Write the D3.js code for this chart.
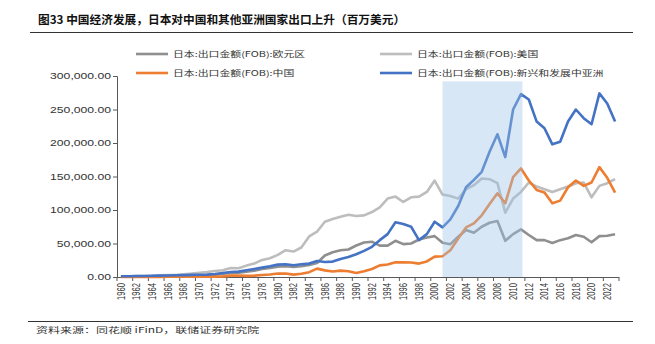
<!DOCTYPE html>
<html>
<head>
<meta charset="utf-8">
<script src="https://cdn.jsdelivr.net/npm/d3@7"></script>
<style>
  body { margin: 0; background: #fff; }
  text { font-family: "Liberation Sans", Arial, "Noto Sans CJK SC", sans-serif; }
</style>
</head>
<body>
<div id="chart"></div>
<script>
const years = d3.range(1960, 2024);

// 日本出口金额 (FOB)，百万美元
const euroArea = [
  400, 450, 600, 700, 750, 850, 1000, 1150, 1400, 1800,
  2200, 2800, 3600, 5000, 6200, 6500, 8000, 9500, 12000, 13500,
  15500, 16000, 15000, 16000, 18000, 21000, 32000, 37000, 40000, 41000,
  47000, 51500, 52700, 46800, 46800, 54000, 49000, 50000, 56000, 59000,
  61000, 51000, 49000, 60000, 70000, 66000, 75000, 81000, 83600, 54000,
  64000, 71000, 62700, 55000, 55000, 50700, 55000, 57800, 62700, 60000,
  51800, 61000, 61600, 63700
];
const usa = [
  1100, 1100, 1400, 1500, 1800, 2500, 3000, 3000, 4100, 5000,
  6400, 7500, 9000, 10000, 13500, 13000, 17000, 20000, 25500, 28000,
  33000, 40000, 38000, 44000, 60500, 67600, 82500, 86600, 90000, 93000,
  91000, 92000, 97000, 104000, 117000, 120000, 112000, 119000, 120000, 127000,
  144000, 123000, 121000, 117000, 131000, 137000, 147000, 146000, 140000, 96000,
  117000, 127000, 141000, 135000, 131000, 127000, 131000, 135000, 140000, 141000,
  119000, 136000, 140000, 146000
];
const china = [
  0, 20, 40, 60, 150, 250, 300, 290, 330, 390,
  570, 580, 600, 1000, 2000, 2300, 1700, 2000, 3000, 3700,
  5100, 5100, 3500, 4900, 7200, 12500, 9900, 8300, 9500, 8500,
  6100, 8600, 11900, 17300, 18700, 21900, 21800, 21700, 20000, 23300,
  30400, 31000, 40000, 57500, 74000, 80000, 92000, 109000, 125000, 110000,
  149000, 162000, 144000, 130000, 126000, 110000, 114000, 134000, 144000, 136000,
  141000, 164000, 148000, 126000
];
const emergingAsia = [
  1100, 1150, 1400, 1600, 1900, 2000, 2300, 2600, 2800, 3100,
  3300, 3600, 4500, 6000, 7500, 8000, 10000, 12000, 14000, 16000,
  18500, 19000, 17500, 19000, 20000, 24000, 22500, 23000, 27000, 30000,
  34000, 39000, 45000, 55000, 64000, 81600, 79000, 75000, 55000, 64000,
  82500, 74000, 86000, 106000, 134000, 145000, 157000, 187000, 213000, 179000,
  250000, 273000, 265000, 232000, 222000, 198000, 202000, 232000, 250000, 237000,
  228000, 274000, 259000, 232000
];

const seriesNames = [
  "日本:出口金额(FOB):欧元区",
  "日本:出口金额(FOB):美国",
  "日本:出口金额(FOB):中国",
  "日本:出口金额(FOB):新兴和发展中亚洲"
];
const yTicks = [0, 50000, 100000, 150000, 200000, 250000, 300000];
const shadeYears = [2001, 2011];

const title = "图33 中国经济发展，日本对中国和其他亚洲国家出口上升（百万美元）";
const source = "资料来源：同花顺 iFinD，联储证券研究院";

const W = 655, H = 344;
const margin = { top: 76, right: 36, bottom: 67, left: 117 };

const svg = d3.select("#chart").append("svg")
    .attr("width", W)
    .attr("height", H);

const x = d3.scaleBand()
    .domain(years)
    .range([margin.left, W - margin.right])
    .padding(0);

const y = d3.scaleLinear()
    .domain([0, 300000])
    .range([H - margin.bottom, margin.top]);

const cx = d => x(d) + x.bandwidth() / 2;

// title + rules
svg.append("text")
    .attr("x", 38)
    .attr("y", 24)
    .style("font-family", "'Noto Sans CJK SC', sans-serif")
    .style("font-size", "11.7px")
    .style("font-weight", "bold")
    .attr("fill", "#111")
    .text(title);

svg.append("line")
    .attr("x1", 30).attr("x2", 633)
    .attr("y1", 32.5).attr("y2", 32.5)
    .attr("stroke", "#333").attr("stroke-width", 1);

svg.append("line")
    .attr("x1", 28).attr("x2", 633)
    .attr("y1", 321.5).attr("y2", 321.5)
    .attr("stroke", "#333").attr("stroke-width", 1);

svg.append("text")
    .attr("transform", "translate(36,333) scale(1.5,1)")
    .style("font-family", "'Noto Sans CJK SC', sans-serif")
    .style("font-size", "8px")
    .attr("fill", "#333")
    .text(source);

// y axis
const yAxis = svg.append("g")
    .attr("transform", `translate(${margin.left},0)`)
    .call(d3.axisLeft(y).tickValues(yTicks).tickSize(4));
yAxis.select(".domain").attr("stroke", "#595959");
yAxis.selectAll(".tick line").attr("stroke", "#595959");
yAxis.selectAll(".tick text").remove();
yAxis.selectAll(".tick").append("text")
    .attr("transform", "translate(-6,0) scale(1.45,1)")
    .attr("text-anchor", "end")
    .attr("dy", "0.34em")
    .attr("fill", "#333")
    .style("font-size", "8.4px")
    .text(d => d3.format(",.2f")(d));

// x axis: ticks every 2 years on category edges
const xAxis = svg.append("g");
xAxis.append("line")
    .attr("x1", margin.left).attr("x2", W - margin.right)
    .attr("y1", y(0) + 0.5).attr("y2", y(0) + 0.5)
    .attr("stroke", "#595959");
const tickYears = years.filter((d, i) => i % 2 === 0);
xAxis.selectAll(".xt")
    .data(tickYears.map(d => x(d)).concat([W - margin.right]))
    .join("line")
    .attr("class", "xt")
    .attr("x1", d => d).attr("x2", d => d)
    .attr("y1", y(0)).attr("y2", y(0) + 4)
    .attr("stroke", "#595959");
xAxis.selectAll(".xl")
    .data(tickYears)
    .join("text")
    .attr("class", "xl")
    .attr("transform", d => `translate(${cx(d)},${y(0) + 6}) scale(1.4,1) rotate(-90)`)
    .attr("text-anchor", "end")
    .attr("dy", "0.35em")
    .attr("fill", "#333")
    .style("font-size", "7.6px")
    .text(d => d);

// lines
const series = [
  { name: seriesNames[0], values: euroArea, color: "#8f8f8f" },
  { name: seriesNames[1], values: usa, color: "#bdbdbd" },
  { name: seriesNames[2], values: china, color: "#ed7d31" },
  { name: seriesNames[3], values: emergingAsia, color: "#4472c4" }
];

const line = d3.line()
    .x((d, i) => cx(years[i]))
    .y(d => y(d));

svg.selectAll(".series")
    .data(series)
    .join("path")
    .attr("class", "series")
    .attr("fill", "none")
    .attr("stroke", d => d.color)
    .attr("stroke-width", 2.6)
    .attr("stroke-linejoin", "round")
    .attr("d", d => line(d.values));

// shaded period, drawn over the lines
svg.append("rect")
    .attr("x", cx(shadeYears[0]))
    .attr("y", y(292000))
    .attr("width", cx(shadeYears[1]) - cx(shadeYears[0]) + 1.5)
    .attr("height", y(0) - y(292000))
    .attr("fill", "#9dc3e6")
    .attr("opacity", 0.4);

// legend
const legendPos = [[136, 54], [380, 54], [136, 73], [380, 73]];
const legend = svg.selectAll(".legend")
    .data(series)
    .join("g")
    .attr("class", "legend")
    .attr("transform", (d, i) => `translate(${legendPos[i][0]},${legendPos[i][1]})`);
legend.append("line")
    .attr("x1", 0).attr("x2", 32)
    .attr("stroke", d => d.color)
    .attr("stroke-width", 2.6);
legend.append("text")
    .attr("transform", "translate(37,0) scale(1.36,1)")
    .attr("dy", "0.35em")
    .attr("fill", "#333")
    .style("font-family", "'Noto Sans CJK SC', sans-serif")
    .style("font-size", "8px")
    .text(d => d.name);
</script>
</body>
</html>
